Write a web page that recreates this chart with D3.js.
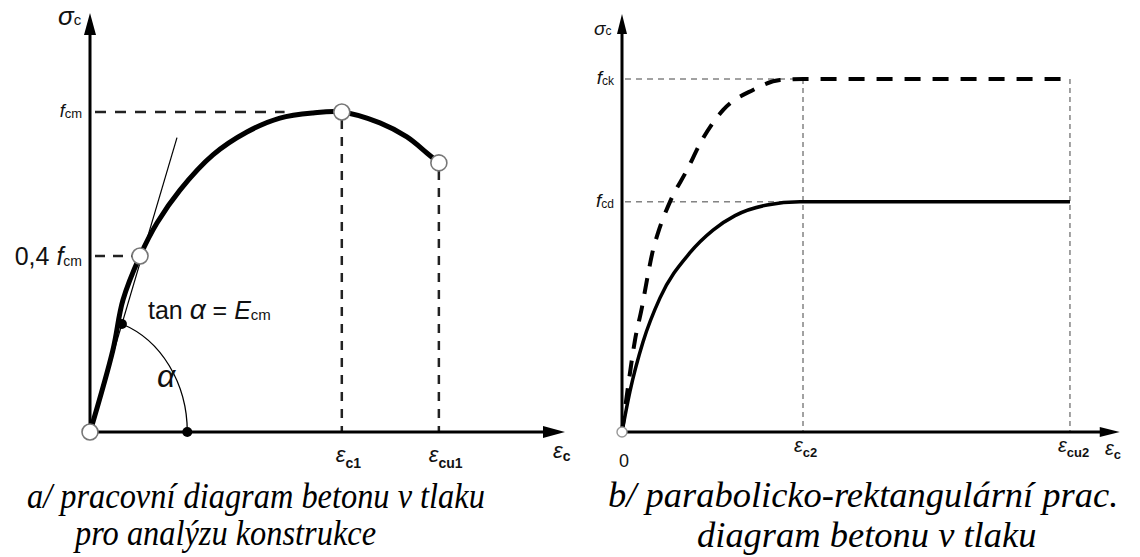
<!DOCTYPE html>
<html>
<head>
<meta charset="utf-8">
<script src="https://cdn.jsdelivr.net/npm/d3@7"></script>
<style>
  body { margin: 0; background: #fff; }
  svg { display: block; }
</style>
</head>
<body>
<svg id="chart" width="1140" height="557"></svg>
<script>
// ---- a/ working diagram (values in drawing units: strain ‰-like, stress / fcm)
var leftStrain = [0, 0.20, 0.288, 0.437, 0.585, 0.786, 1.074, 1.371, 1.659, 1.948, 2.2, 2.533, 2.769, 2.943, 3.048];
var leftStress = [0, 0.256, 0.4125, 0.55, 0.653, 0.756, 0.866, 0.9375, 0.981, 0.997, 1.0, 0.966, 0.922, 0.872, 0.841];
var epsC1 = 2.2, epsCu1 = 3.048;
var fcm = 1.0, fcm04 = 0.55;      // 0,4 fcm as drawn
var tangentEnd = [0.76, 0.92];    // secant / tangent Ecm
var alphaDotStress = 0.3375, alphaDotStrain = 0.85;

// ---- b/ parabola-rectangle (stress / fck)
var fckStrain = [0, 0.066, 0.144, 0.221, 0.276, 0.343, 0.398, 0.530, 0.718, 0.884, 1.116, 1.448, 1.746, 2.0, 4.95];
var fckStress = [0, 0.127, 0.261, 0.354, 0.431, 0.516, 0.564, 0.652, 0.742, 0.827, 0.912, 0.969, 0.997, 1.0, 1.0];
var fcdStrain = [0, 0.088, 0.232, 0.420, 0.751, 1.006, 1.249, 1.602, 1.967, 2.0, 4.95];
var fcdStress = [0, 0.115, 0.255, 0.380, 0.508, 0.572, 0.613, 0.643, 0.652, 0.652, 0.652];
var epsC2 = 2.0, epsCu2 = 4.95;
var fck = 1.0, fcd = 0.652;

var SANS = "'Liberation Sans', Arial, sans-serif";
var SERIF = "'Liberation Serif', 'Times New Roman', serif";

var svg = d3.select("#chart");

var xL = d3.scaleLinear().domain([0, 4.15]).range([90, 565]);
var yL = d3.scaleLinear().domain([0, 1]).range([432, 112]);
var xR = d3.scaleLinear().domain([0, 5.5]).range([622, 1119.75]);
var yR = d3.scaleLinear().domain([0, 1]).range([432, 79]);

function zip(a, b) { return a.map(function(v, i) { return [v, b[i]]; }); }

// label with subscript: parts = [[text, size, style, weight, dy]]
function label(x, y, parts, anchor) {
  var t = svg.append("text").attr("x", x).attr("y", y).attr("text-anchor", anchor || "start")
    .style("font-family", SANS).style("fill", "#111");
  parts.forEach(function(p) {
    t.append("tspan")
      .attr("font-size", p[1])
      .attr("font-style", p[2] || "normal")
      .attr("font-weight", p[3] || "normal")
      .attr("dy", p[4] || 0)
      .text(p[0]);
  });
  return t;
}

// captions look a bit taller than plain Times in the original
function caption(x, y, txt, size, sy) {
  svg.append("text").attr("transform", "translate(" + x + "," + y + ") scale(1," + sy + ")")
    .style("font-family", SERIF).style("font-style", "italic").style("font-size", size + "px").style("fill", "#000")
    .text(txt);
}

function arrowAxes(x, y, xmax, ymax, w, head) {
  var x0 = x(0), y0 = y(0), xe = x(xmax), ye = y(ymax);
  svg.append("line").attr("x1", x0).attr("y1", y0).attr("x2", x0).attr("y2", ye + head[0] - 2)
    .attr("stroke", "#000").attr("stroke-width", w);
  svg.append("line").attr("x1", x0).attr("y1", y0).attr("x2", xe - head[0] + 2).attr("y2", y0)
    .attr("stroke", "#000").attr("stroke-width", w);
  svg.append("path").attr("d", "M" + x0 + "," + ye + "L" + (x0 - head[1]) + "," + (ye + head[0]) + "L" + (x0 + head[1]) + "," + (ye + head[0]) + "Z");
  svg.append("path").attr("d", "M" + xe + "," + y0 + "L" + (xe - head[0]) + "," + (y0 - head[1]) + "L" + (xe - head[0]) + "," + (y0 + head[1]) + "Z");
}

function dash(x1, y1, x2, y2, arr, w, col) {
  svg.append("line").attr("x1", x1).attr("y1", y1).attr("x2", x2).attr("y2", y2)
    .attr("stroke", col).attr("stroke-width", w).attr("stroke-dasharray", arr);
}

// ================= LEFT PANEL =================
dash(xL(0) + 5, yL(fcm), xL(1.7), yL(fcm), "11,9", 2.5, "#222");
dash(xL(0) + 5, yL(fcm04), xL(leftStrain[3]) - 8, yL(fcm04), "10,8", 2.5, "#222");
dash(xL(epsC1), yL(fcm) + 8, xL(epsC1), yL(0), "9,8", 2.5, "#222");
dash(xL(epsCu1), yL(leftStress[leftStress.length - 1]) + 8, xL(epsCu1), yL(0), "9,8", 2.5, "#222");

arrowAxes(xL, yL, 4.15, (432 - 13) / 320, 3, [22, 6]);

// tangent line
svg.append("line").attr("x1", xL(0)).attr("y1", yL(0)).attr("x2", xL(tangentEnd[0])).attr("y2", yL(tangentEnd[1]))
  .attr("stroke", "#000").attr("stroke-width", 1.2);

// alpha arc
var ax = xL(alphaDotStress * tangentEnd[0] / tangentEnd[1]), ay = yL(alphaDotStress);
var bx = xL(alphaDotStrain), by = yL(0);
var rx = bx - xL(0), dxA = ax - xL(0), dyA = yL(0) - ay;
var ry = dyA / Math.sqrt(1 - (dxA / rx) * (dxA / rx));
svg.append("path").attr("d", "M" + ax + "," + ay + "A" + rx + "," + ry + " 0 0 1 " + bx + "," + by)
  .attr("fill", "none").attr("stroke", "#000").attr("stroke-width", 1.3);

// main curve
svg.append("path").datum(zip(leftStrain, leftStress))
  .attr("d", d3.line().x(function(d) { return xL(d[0]); }).y(function(d) { return yL(d[1]); }).curve(d3.curveCatmullRom))
  .attr("fill", "none").attr("stroke", "#000").attr("stroke-width", 5).attr("stroke-linecap", "round");

[[ax, ay], [bx, by]].forEach(function(p) {
  svg.append("circle").attr("cx", p[0]).attr("cy", p[1]).attr("r", 5).attr("fill", "#000");
});
[[0, 0], [leftStrain[3], fcm04], [epsC1, fcm], [epsCu1, leftStress[leftStress.length - 1]]].forEach(function(p) {
  svg.append("circle").attr("cx", xL(p[0])).attr("cy", yL(p[1])).attr("r", 8)
    .attr("fill", "#fff").attr("stroke", "#777").attr("stroke-width", 1.6);
});

label(58, 25, [["σ", 26, "italic"], ["c", 15]]);
label(82, 117, [["f", 18, "italic"], ["cm", 13, "normal", "normal", 1]], "end");
label(82, 265, [["0,4 ", 25], ["f", 25, "italic"], ["cm", 14, "normal", "normal", 1]], "end");
label(148, 319, [["tan ", 25], ["α", 28, "italic"], [" = ", 25], ["E", 25, "italic"], ["cm", 15, "normal", "normal", 1]]);
label(157, 387, [["α", 32, "italic"]]);
label(xL(epsC1) - 6, 462, [["ε", 22, "italic"], ["c1", 14, "normal", "bold", 6]]);
label(xL(epsCu1) - 10, 462, [["ε", 22, "italic"], ["cu1", 14, "normal", "bold", 6]]);
label(553, 458, [["ε", 22, "italic"], ["c", 14, "normal", "bold", 3]]);

caption(27, 508, "a/ pracovní diagram betonu v tlaku", 32.4, 1.1);
caption(75, 545, "pro analýzu konstrukce", 32.4, 1.1);

// ================= RIGHT PANEL =================
dash(xR(0) + 3, yR(fck), xR(epsC2), yR(fck), "6,5", 1, "#444");
dash(xR(0) + 3, yR(fcd), xR(epsC2), yR(fcd), "6,5", 1, "#444");
dash(xR(epsC2), yR(fck), xR(epsC2), yR(0), "5,4", 1, "#444");
dash(xR(epsCu2), yR(fck), xR(epsCu2), yR(0), "5,4", 1, "#444");

arrowAxes(xR, yR, 5.5, (432 - 14) / 353, 3, [20, 5]);

var lineR = d3.line().x(function(d) { return xR(d[0]); }).y(function(d) { return yR(d[1]); }).curve(d3.curveMonotoneX);
svg.append("path").datum(zip(fckStrain, fckStress)).attr("d", lineR)
  .attr("fill", "none").attr("stroke", "#000").attr("stroke-width", 4).attr("stroke-dasharray", "16,12");
svg.append("path").datum(zip(fcdStrain, fcdStress)).attr("d", lineR)
  .attr("fill", "none").attr("stroke", "#000").attr("stroke-width", 3.5);

svg.append("circle").attr("cx", xR(0)).attr("cy", yR(0)).attr("r", 5)
  .attr("fill", "#fff").attr("stroke", "#999").attr("stroke-width", 1.4);

label(594, 35, [["σ", 19, "italic"], ["c", 12]]);
label(614, 84, [["f", 19, "italic"], ["ck", 12, "normal", "normal", 1]], "end");
label(614, 207, [["f", 19, "italic"], ["cd", 12, "normal", "normal", 1]], "end");
label(624, 467, [["0", 18]], "middle");
label(xR(epsC2) - 9, 452, [["ε", 20, "italic"], ["c2", 13, "normal", "bold", 5]]);
label(xR(epsCu2) - 12, 452, [["ε", 20, "italic"], ["cu2", 13, "normal", "bold", 5]]);
label(1105, 455, [["ε", 20, "italic"], ["c", 13, "normal", "bold", 4]]);

caption(608, 507, "b/ parabolicko-rektangulární prac.", 36.5, 0.97);
caption(697, 547, "diagram betonu v tlaku", 36.5, 0.97);
</script>
</body>
</html>
